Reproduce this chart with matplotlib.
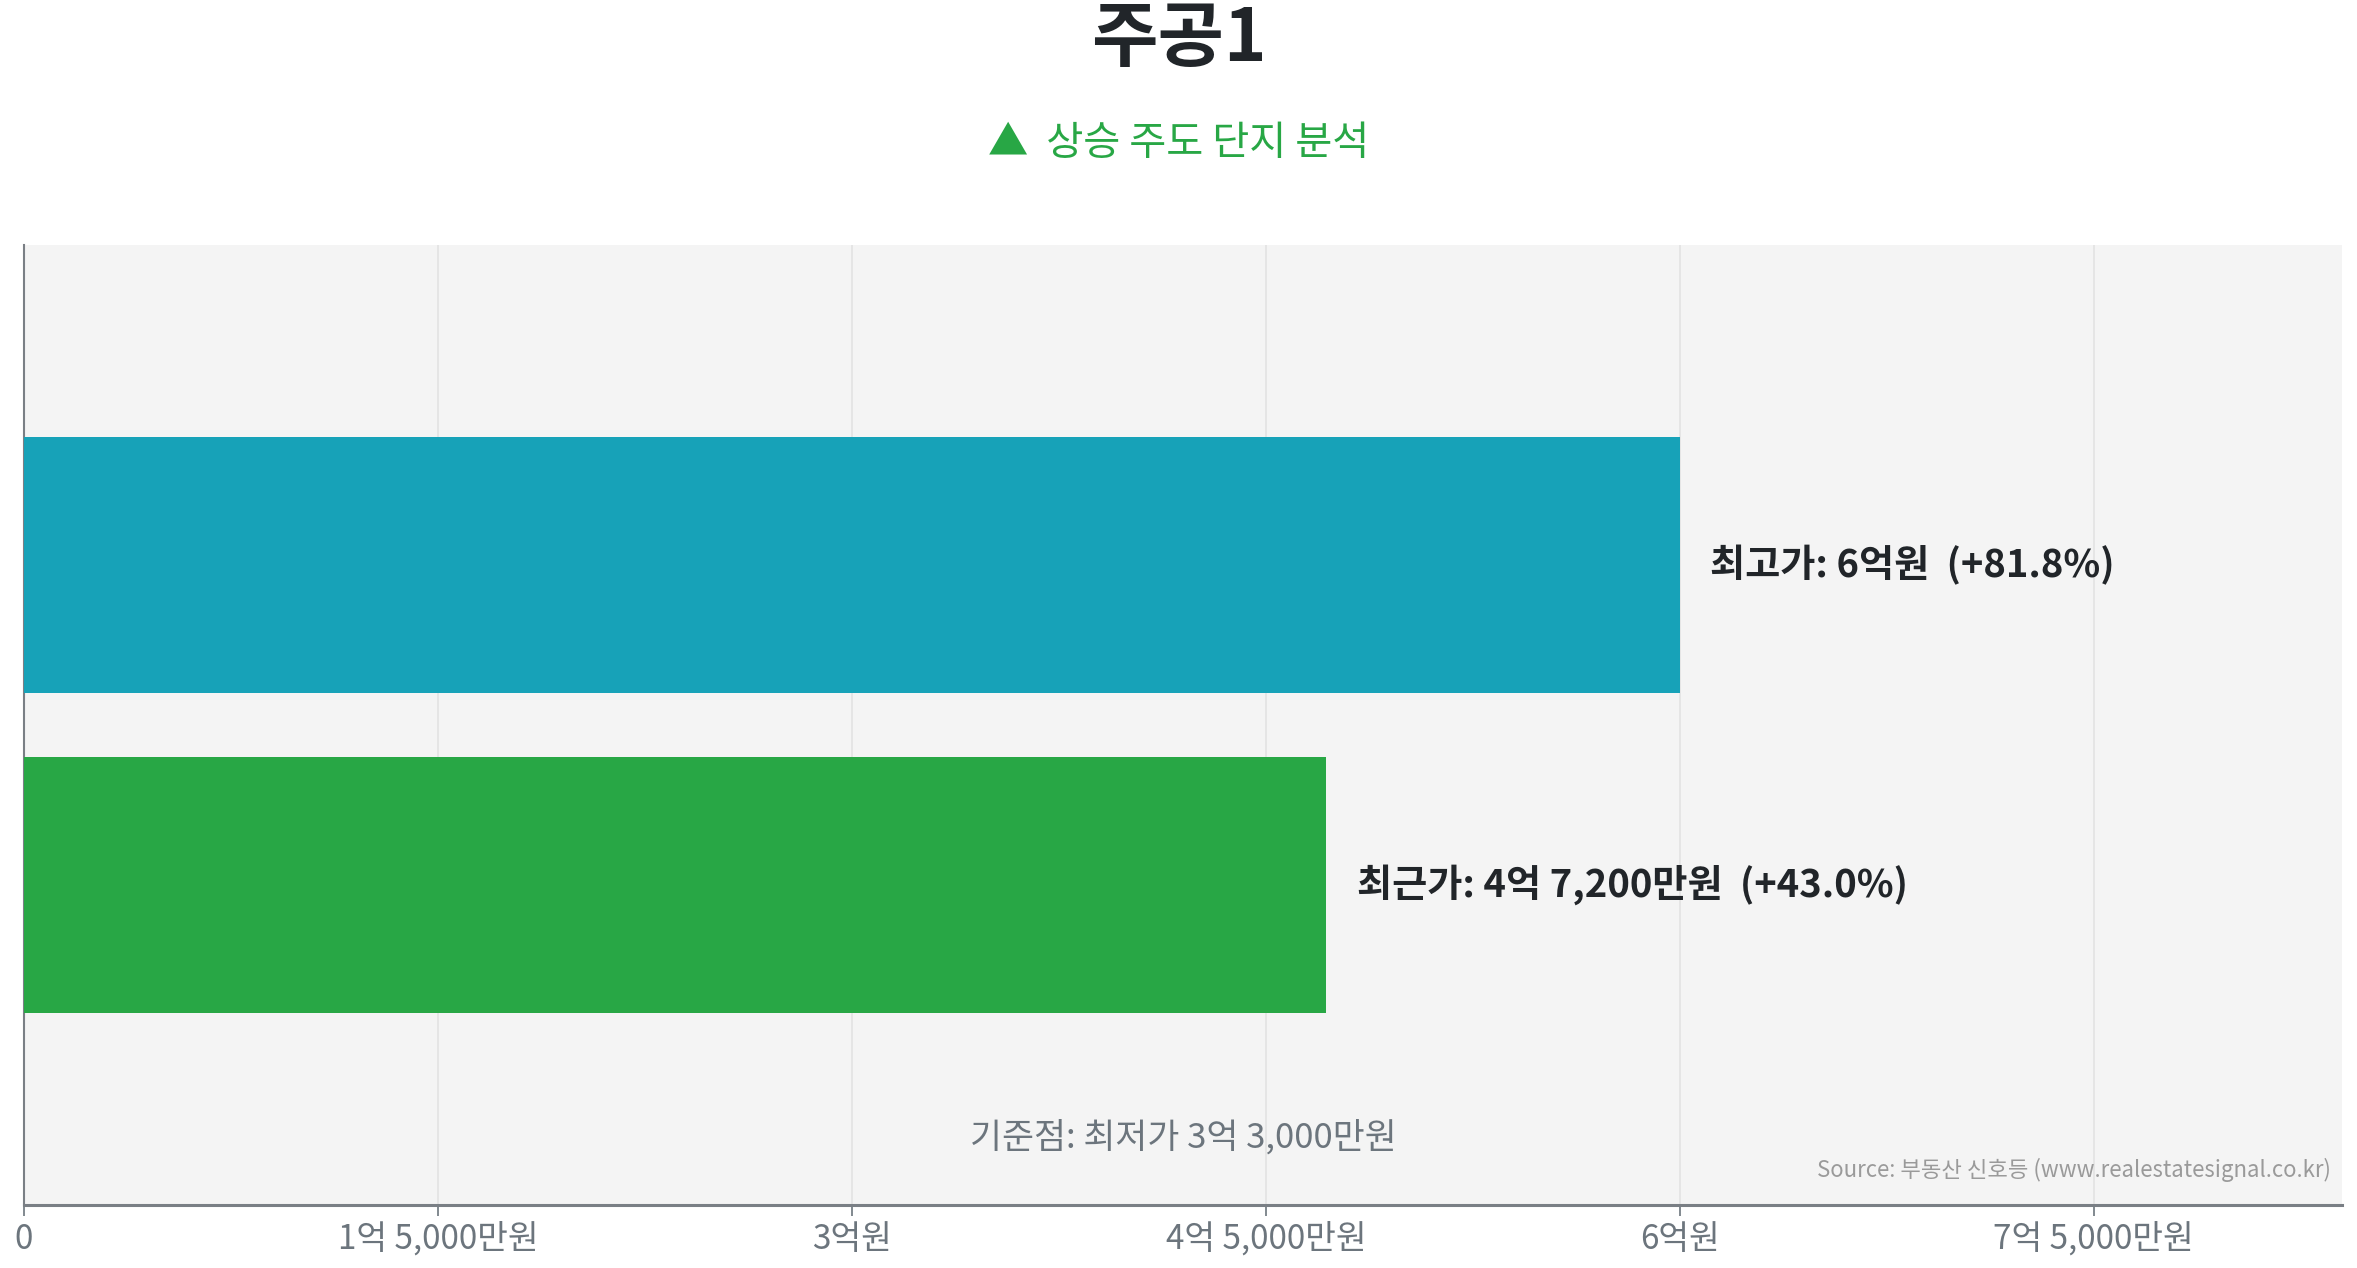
import numpy as np
import matplotlib.pyplot as plt
from matplotlib.ticker import FuncFormatter, MultipleLocator

plt.rcParams['font.family'] = ['Noto Sans CJK KR', 'DejaVu Sans']

title = "주공1"
subtitle = "▲  상승 주도 단지 분석"
labels = ["최근가", "최고가"]
prices = [472000000, 600000000]      # 원
base_price = 330000000               # 최저가
colors = ["#28a745", "#17a2b8"]
source = "Source: 부동산 신호등 (www.realestatesignal.co.kr)"


def won(v, pos=None):
    v = int(round(v))
    if v == 0:
        return "0"
    eok = v // 100000000
    man = (v % 100000000) // 10000
    if man == 0:
        return f"{eok}억원"
    if eok == 0:
        return f"{man:,}만원"
    return f"{eok}억 {man:,}만원"


fig = plt.figure(figsize=(23.57, 12.68), dpi=100)
ax = fig.add_axes([24 / 2357, 1 - 1205 / 1268, (2342 - 24) / 2357, (1205 - 245) / 1268])

y = np.arange(len(labels))
ax.barh(y, prices, height=0.8, color=colors, zorder=3)

for yi, lab, p in zip(y, labels, prices):
    pct = (p / base_price - 1) * 100
    ax.text(p + 0.11e8, yi, f"{lab}: {won(p)}  (+{pct:.1f}%)", va="center", ha="left",
            fontsize=27.5, fontweight="bold", color="#212529", zorder=4)

ax.set_xlim(0, 8.4e8)
ax.set_ylim(-1, 2)
ax.set_facecolor("#f4f4f4")
ax.xaxis.set_major_locator(MultipleLocator(1.5e8))
ax.xaxis.set_major_formatter(FuncFormatter(won))
ax.set_yticks([])
ax.grid(axis="x", color="#e2e2e2", linewidth=1.2, zorder=0)
ax.tick_params(axis="x", labelsize=24, labelcolor="#6c757d", color="#6c757d",
               length=8, width=1.2, pad=4)
for s in ["top", "right"]:
    ax.spines[s].set_visible(False)
ax.spines["left"].set_color("#7a7f85")
ax.spines["left"].set_linewidth(1.5)
ax.spines["bottom"].set_color("#7a7f85")
ax.spines["bottom"].set_linewidth(2.2)

ax.text(0.5, 0.07, f"기준점: 최저가 {won(base_price)}", transform=ax.transAxes,
        ha="center", va="center", fontsize=25, color="#6c757d")
ax.text(0.995, 0.037, source, transform=ax.transAxes, ha="right", va="center",
        fontsize=16, color="#9a9a9a")

fig.text(0.5, 1 - 40 / 1268, title, ha="center", va="center", fontsize=52,
         fontweight="bold", color="#212529")
fig.text(0.5, 1 - 143 / 1268, subtitle, ha="center", va="center", fontsize=29,
         color="#28a745")

fig.savefig("out.png", dpi=100)
